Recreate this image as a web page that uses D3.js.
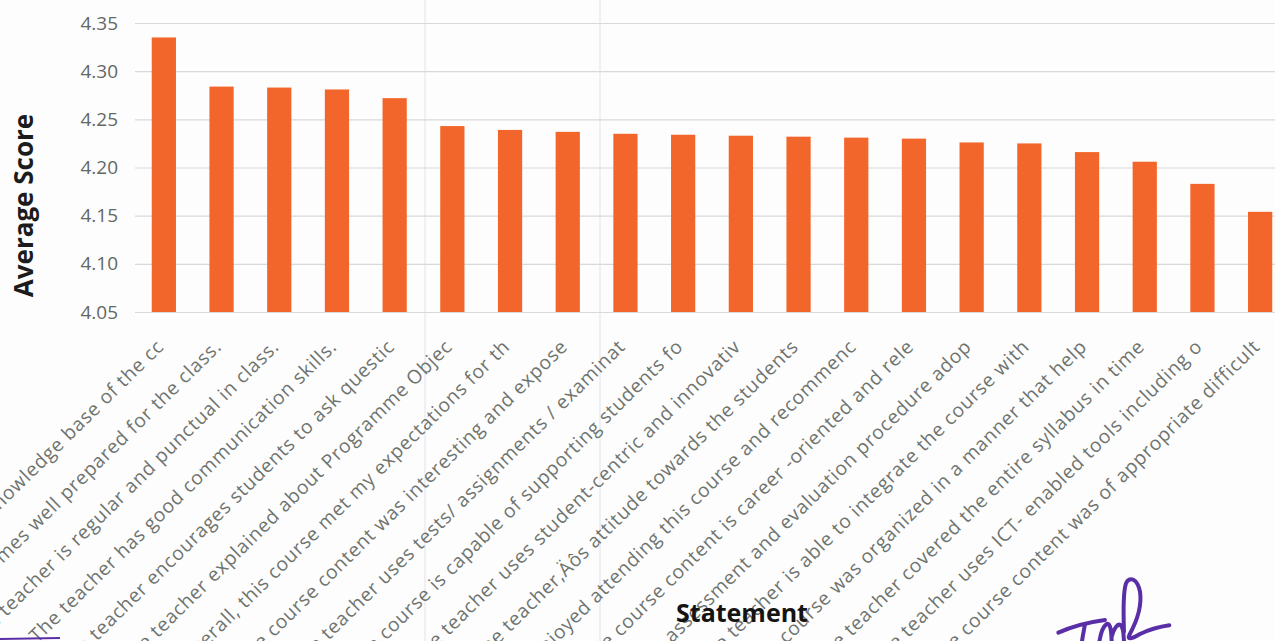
<!DOCTYPE html>
<html>
<head>
<meta charset="utf-8">
<script src="https://cdn.jsdelivr.net/npm/d3@7"></script>
<style>
  html, body { margin: 0; padding: 0; background: #fdfdfd; overflow: hidden; }
  svg { display: block; }
</style>
</head>
<body>
<svg id="chart"></svg>
<script>
const statements = [
  "The teacher has a good knowledge base of the cc",
  "The teacher comes well prepared for the class.",
  "The teacher is regular and punctual in class.",
  "The teacher has good communication skills.",
  "The teacher encourages students to ask questic",
  "The teacher explained about Programme Objec",
  "Overall, this course met my expectations for th",
  "The course content was interesting and expose",
  "The teacher uses tests/ assignments / examinat",
  "The course is capable of supporting students fo",
  "The teacher uses student-centric and innovativ",
  "The teacher‚Äôs attitude towards the students",
  "I enjoyed attending this course and recommenc",
  "The course content is career -oriented and rele",
  "The assessment and evaluation procedure adop",
  "The teacher is able to integrate the course with",
  "The course was organized in a manner that help",
  "The teacher covered the entire syllabus in time",
  "The teacher uses ICT- enabled tools including o",
  "The course content was of appropriate difficult"
];
const avgScores = [4.335, 4.284, 4.283, 4.281, 4.272, 4.243, 4.239, 4.237, 4.235, 4.234,
                   4.233, 4.232, 4.231, 4.230, 4.226, 4.225, 4.216, 4.206, 4.183, 4.154];
const yTicks = [4.05, 4.10, 4.15, 4.20, 4.25, 4.30, 4.35];

const W = 1275, H = 641;
const margin = { top: 23, left: 135, bottom: 329 };
const plotBottom = H - margin.bottom;
const plotRight = margin.left + 20 * 57.7;

const svg = d3.select('#chart')
  .attr('width', W)
  .attr('height', H);

const x = d3.scaleBand()
  .domain(statements)
  .range([margin.left, plotRight])
  .paddingInner(0.58)
  .paddingOuter(0.29);

const y = d3.scaleLinear()
  .domain([yTicks[0], yTicks[yTicks.length - 1]])
  .range([plotBottom, margin.top]);

// faint scan folds
svg.append('g')
  .selectAll('line')
  .data([425, 600])
  .enter().append('line')
  .attr('x1', d => d).attr('x2', d => d)
  .attr('y1', 0).attr('y2', H)
  .attr('stroke', '#e2e3ea')
  .attr('stroke-width', 1);

// grid
svg.append('g')
  .attr('transform', `translate(${margin.left},0)`)
  .call(d3.axisLeft(y).tickValues(yTicks).tickSize(-(W - margin.left)).tickFormat(''))
  .call(g => g.select('.domain').remove())
  .call(g => g.selectAll('line').attr('stroke', '#d5dadb').attr('stroke-width', 1.2));

// y labels
svg.append('g')
  .attr('transform', `translate(${margin.left},0)`)
  .call(d3.axisLeft(y).tickValues(yTicks).tickSize(0).tickPadding(17).tickFormat(d3.format('.2f')))
  .call(g => g.select('.domain').remove())
  .call(g => g.selectAll('text')
    .attr('fill', '#646864')
    .style('font-family', 'Open Sans')
    .style('font-size', '19px'));

// bars
svg.append('g')
  .selectAll('rect')
  .data(avgScores)
  .enter().append('rect')
  .attr('x', (d, i) => x(statements[i]))
  .attr('y', d => y(d))
  .attr('width', x.bandwidth())
  .attr('height', d => plotBottom - y(d))
  .attr('fill', '#f3662b');

// x labels
svg.append('g')
  .attr('transform', `translate(0,${plotBottom})`)
  .call(d3.axisBottom(x).tickSize(0))
  .call(g => g.select('.domain').remove())
  .call(g => g.selectAll('text')
    .attr('x', 0).attr('y', 0).attr('dy', 0)
    .attr('transform', 'translate(1,36) rotate(-44.5)')
    .style('text-anchor', 'end')
    .attr('fill', '#6f746f')
    .style('font-family', 'Open Sans')
    .style('font-size', '19.2px')
    .style('letter-spacing', '0.75px'));

svg.append('text')
  .attr('transform', `translate(33,${(margin.top + plotBottom) / 2 + 38}) rotate(-90)`)
  .style('text-anchor', 'middle')
  .style('font-family', 'Open Sans')
  .style('font-weight', 'bold')
  .style('font-size', '26px')
  .attr('fill', '#1c1c1c')
  .text('Average Score');

svg.append('text')
  .attr('x', 742)
  .attr('y', 622)
  .style('text-anchor', 'middle')
  .style('font-family', 'Open Sans')
  .style('font-weight', 'bold')
  .style('font-size', '25px')
  .attr('fill', '#141414')
  .text('Statement');

// signature
const ink = svg.append('g')
  .attr('transform', 'translate(1040,560) scale(0.3333)')
  .attr('fill', 'none')
  .attr('stroke', '#5a2ea6')
  .attr('stroke-width', 12)
  .attr('stroke-linecap', 'round')
  .attr('stroke-linejoin', 'round');
ink.append('path').attr('d', 'M55,218 C95,200 150,186 195,180');
ink.append('path').attr('d', 'M135,192 C132,210 128,228 126,245');
ink.append('path').attr('d', 'M178,245 C182,220 188,200 200,192 C212,188 214,215 215,243 M215,230 C222,205 232,190 242,195 C252,205 250,225 252,243');
ink.append('path').attr('d', 'M252,215 C250,160 248,100 258,70 C268,48 292,55 300,95 C306,135 290,185 268,225 C262,238 270,240 300,222 C330,208 360,200 388,196');
svg.append('line')
  .attr('x1', 0).attr('x2', 60)
  .attr('y1', 639).attr('y2', 638)
  .attr('stroke', '#5a2ea6')
  .attr('stroke-width', 2);
</script>
</body>
</html>
